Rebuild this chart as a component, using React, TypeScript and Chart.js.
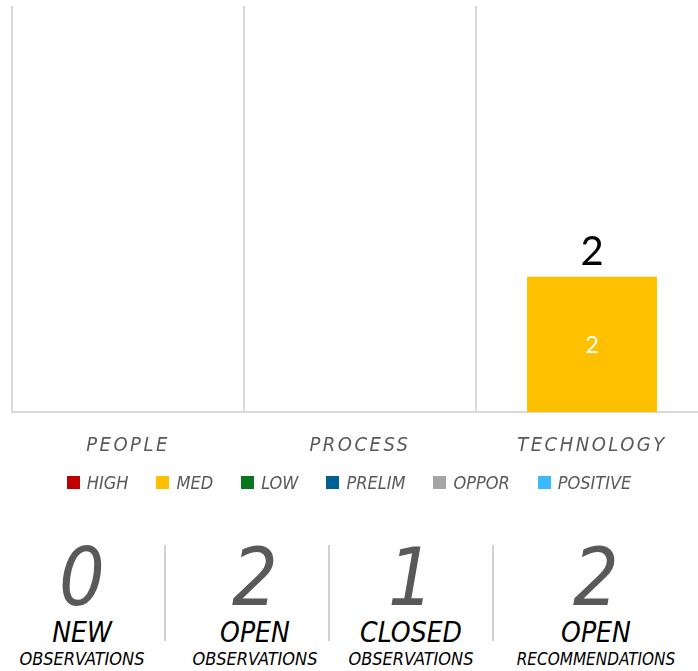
import React, { useEffect, useRef } from "react";
import { Chart, registerables } from "chart.js";

Chart.register(...registerables);

const categories = ["PEOPLE", "PROCESS", "TECHNOLOGY"];
const seriesNames = ["HIGH", "MED", "LOW", "PRELIM", "OPPOR", "POSITIVE"];
const highValues = [0, 0, 0];
const medValues = [0, 0, 2];
const lowValues = [0, 0, 0];
const prelimValues = [0, 0, 0];
const opporValues = [0, 0, 0];
const positiveValues = [0, 0, 0];
const seriesColors = ["#C00000", "#FFC000", "#08751F", "#005F93", "#A5A5A5", "#3DB8FF"];
const yMax = 6;

const summaryValues = [0, 2, 1, 2];
const summaryTitles = ["NEW", "OPEN", "CLOSED", "OPEN"];
const summarySubtitles = ["OBSERVATIONS", "OBSERVATIONS", "OBSERVATIONS", "RECOMMENDATIONS"];

const NARROW = "'Liberation Sans Narrow', 'DejaVu Sans Condensed', 'Arial Narrow', sans-serif";
const REG = "Lato, 'Open Sans', sans-serif";

const labelPlugin = {
  id: "valueLabels",
  afterUpdate(chart: any) {
    const s: any = chart.scales.x;
    if (s && !s.__patched) {
      const orig = s.drawLabels.bind(s);
      s.drawLabels = (area: any) => {
        const ctx = chart.ctx;
        ctx.save();
        (ctx as any).letterSpacing = "2.5px";
        orig(area);
        ctx.restore();
      };
      s.__patched = true;
    }
  },
  afterDatasetsDraw(chart: any) {
    const ctx = chart.ctx;
    ctx.save();
    ctx.textAlign = "center";
    ctx.textBaseline = "middle";
    ctx.fillStyle = "#ffffff";
    ctx.font = `24px ${REG}`;
    chart.data.datasets.forEach((ds: any, i: number) => {
      const meta = chart.getDatasetMeta(i);
      meta.data.forEach((el: any, j: number) => {
        const v = ds.data[j];
        if (v > 0) {
          const p = el.getProps(["x", "y", "base"], true);
          ctx.fillText(String(v), p.x, (p.y + p.base) / 2 + 1);
        }
      });
    });
    const meta0 = chart.getDatasetMeta(0);
    categories.forEach((_c, j) => {
      let total = 0;
      chart.data.datasets.forEach((ds: any) => (total += ds.data[j] || 0));
      if (total > 0) {
        const x = meta0.data[j].x;
        const y = chart.scales.y.getPixelForValue(total);
        ctx.fillStyle = "#000000";
        ctx.font = `40px ${REG}`;
        ctx.textBaseline = "alphabetic";
        ctx.fillText(String(total), x, y - 12);
      }
    });
    ctx.restore();
  },
};

export default function App() {
  const ref = useRef<HTMLCanvasElement>(null);
  useEffect(() => {
    const allValues = [highValues, medValues, lowValues, prelimValues, opporValues, positiveValues];
    const chart = new Chart(ref.current as HTMLCanvasElement, {
      type: "bar",
      data: {
        labels: categories,
        datasets: seriesNames.map((name, i) => ({
          label: name,
          data: allValues[i],
          backgroundColor: seriesColors[i],
          borderWidth: 0,
          categoryPercentage: 0.56,
          barPercentage: 1,
        })),
      },
      options: {
        animation: false,
        responsive: true,
        maintainAspectRatio: false,
        layout: { padding: { top: 6, left: 12, right: 0, bottom: 0 } },
        plugins: {
          tooltip: { enabled: false },
          legend: { display: false },
        },
        scales: {
          x: {
            stacked: true,
            grid: { offset: true, color: "#d9d9d9", lineWidth: 2, drawTicks: false },
            border: { display: true, color: "#d9d9d9", width: 2 },
            ticks: {
              color: "#595959",
              padding: 22,
              font: { family: NARROW, size: 20, style: "italic" },
            },
          },
          y: { stacked: true, display: false, min: 0, max: yMax },
        },
      },
      plugins: [labelPlugin],
    });
    return () => chart.destroy();
  }, []);

  const centers = [82, 255, 411, 596];
  const seps = [165, 329, 493];
  return (
    <div
      style={{
        position: "fixed",
        left: 0,
        top: 0,
        width: 698,
        height: 671,
        overflow: "hidden",
        background: "#fff",
      }}
    >
      <div style={{ position: "absolute", left: 0, top: 0, width: 708, height: 480 }}>
        <canvas ref={ref} />
      </div>
      <div
        style={{
          position: "absolute",
          left: 0,
          width: 698,
          top: 470,
          height: 24,
          display: "flex",
          justifyContent: "center",
          alignItems: "center",
          gap: 28,
          fontFamily: NARROW,
          fontStyle: "italic",
          fontSize: 18,
          color: "#595959",
        }}
      >
        {seriesNames.map((n, i) => (
          <div key={n} style={{ display: "flex", alignItems: "center" }}>
            <span
              style={{ display: "inline-block", width: 13, height: 13, background: seriesColors[i], marginRight: 7 }}
            />
            <span>{n}</span>
          </div>
        ))}
      </div>
      {seps.map((x, i) => (
        <div
          key={"s" + i}
          style={{ position: "absolute", left: x - 1, top: 545, width: 2, height: 96, background: "#d0d0d0" }}
        />
      ))}
      {summaryValues.map((v, i) => (
        <div
          key={"c" + i}
          style={{
            position: "absolute",
            left: centers[i] - 100,
            width: 200,
            top: 528,
            textAlign: "center",
            fontFamily: NARROW,
            fontStyle: "italic",
          }}
        >
          <div style={{ fontSize: 80, lineHeight: "90px", color: "#595959", position: "relative", top: 5 }}>{v}</div>
          <div style={{ fontSize: 28, lineHeight: "30px", color: "#000" }}>{summaryTitles[i]}</div>
          <div style={{ fontSize: i === 3 ? 17 : 18, lineHeight: "22px", color: "#000" }}>{summarySubtitles[i]}</div>
        </div>
      ))}
    </div>
  );
}
